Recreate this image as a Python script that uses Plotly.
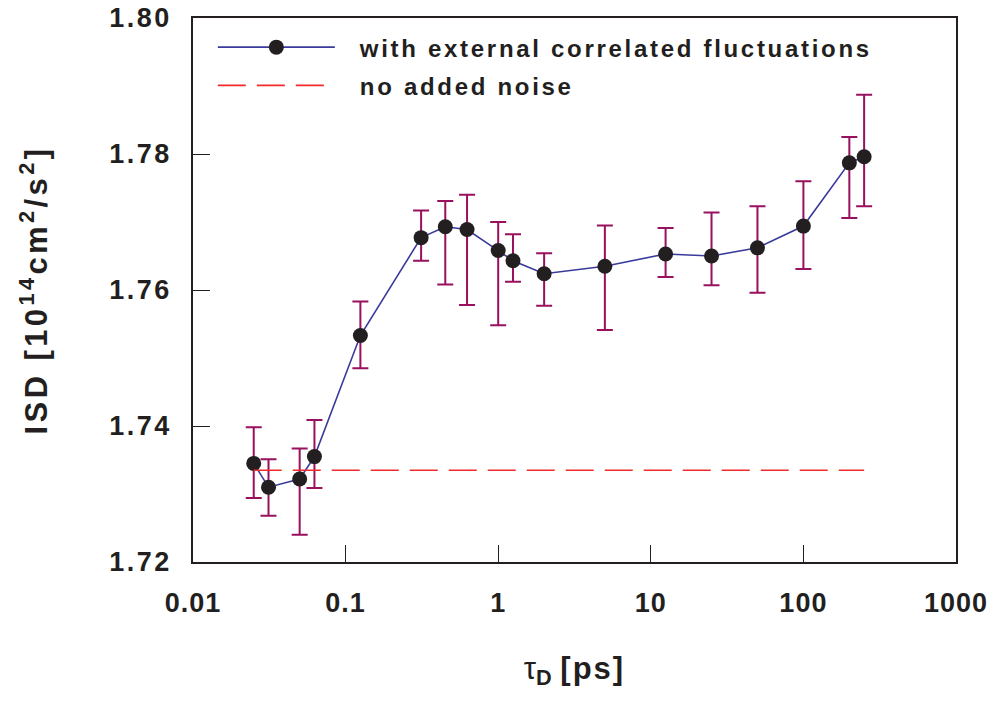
import plotly.graph_objects as go

# Correlation time of the external fluctuations (ps) and the resulting ISD
tau_ps = [0.025, 0.03125, 0.05, 0.0625, 0.125, 0.3125, 0.45, 0.625, 1, 1.25,
          2, 5, 12.5, 25, 50, 100, 200, 250]
isd = [1.7345, 1.7310, 1.7322, 1.7355, 1.7533, 1.7677, 1.7693, 1.7689, 1.7658,
       1.7643, 1.7624, 1.7635, 1.7653, 1.7650, 1.7662, 1.7694, 1.7787, 1.7796]
isd_upper = [1.7398, 1.7351, 1.7367, 1.7409, 1.7583, 1.7717, 1.7731, 1.7740,
             1.7700, 1.7682, 1.7654, 1.7695, 1.7691, 1.7714, 1.7723, 1.7760,
             1.7825, 1.7887]
isd_lower = [1.7294, 1.7268, 1.7240, 1.7309, 1.7485, 1.7643, 1.7608, 1.7578,
             1.7548, 1.7612, 1.7577, 1.7541, 1.7619, 1.7607, 1.7596, 1.7631,
             1.7706, 1.7723]
isd_no_noise = 1.7335

x_ticks = [0.01, 0.1, 1, 10, 100, 1000]
x_tick_labels = ["0.01", "0.1", "1", "10", "100", "1000"]
y_ticks = [1.72, 1.74, 1.76, 1.78, 1.80]
y_tick_labels = ["1.72", "1.74", "1.76", "1.78", "1.80"]

FONT = "Liberation Sans, Arial, Helvetica, sans-serif"
INK = "#231f20"
GAP = "\u00a0\u00a0\u00a0"


def spaced(text, px):
    return f'<span style="letter-spacing:{px}px">{text}</span>'


err_plus = [u - v for u, v in zip(isd_upper, isd)]
err_minus = [v - l for v, l in zip(isd, isd_lower)]

fig = go.Figure()

fig.add_trace(go.Scatter(
    x=tau_ps, y=isd, mode="lines+markers",
    name=GAP + spaced("with external correlated fluctuations", 2.7),
    legendgroup="a",
    line=dict(color="#3a3a9c", width=1.6),
    marker=dict(color=INK, size=15),
    error_y=dict(type="data", symmetric=False, array=err_plus,
                 arrayminus=err_minus, color="#99105e", thickness=2, width=8),
))

fig.add_trace(go.Scatter(
    x=[tau_ps[0], tau_ps[-1]], y=[isd_no_noise, isd_no_noise], mode="lines",
    name=GAP + spaced("no added noise", 2.7),
    legendgroup="b",
    line=dict(color="#f42a2a", width=1.6, dash="28px,11px"),
))

axis_common = dict(
    showgrid=False, zeroline=False, showline=True, mirror=True,
    linecolor=INK, linewidth=1.5, ticks="inside", ticklen=17,
    tickwidth=1.3, tickcolor=INK, automargin=False,
    tickfont=dict(family=FONT, size=27, color=INK, weight="bold"),
)

fig.update_layout(
    width=992, height=703,
    margin=dict(l=193, r=36, t=18, b=141),
    paper_bgcolor="white", plot_bgcolor="white",
    showlegend=True,
    legend=dict(
        x=0.026, y=0.987, xanchor="left", yanchor="top",
        bgcolor="rgba(0,0,0,0)", borderwidth=0,
        itemwidth=117, tracegroupgap=4,
        font=dict(family=FONT, size=24, color=INK, weight="bold"),
    ),
    xaxis=dict(
        type="log", range=[-2, 3],
        tickvals=x_ticks, ticktext=[spaced(t, 1) for t in x_tick_labels],
        ticklabelstandoff=16,
        title=dict(text="τ<sub><b>D</b></sub> " + spaced("<b>[ps]</b>", 2),
                   standoff=40,
                   font=dict(family=FONT, size=31, color=INK)),
        **axis_common,
    ),
    yaxis=dict(
        range=[1.72, 1.80],
        tickvals=y_ticks, ticktext=[spaced(t, 2.5) for t in y_tick_labels],
        ticklabelstandoff=14,
        title=dict(text=spaced("ISD [10<sup>14</sup>cm<sup>2</sup>/s<sup>2</sup>]", 3.4),
                   standoff=52,
                   font=dict(family=FONT, size=31, color=INK, weight="bold")),
        **axis_common,
    ),
)

fig.write_html("out.html")
